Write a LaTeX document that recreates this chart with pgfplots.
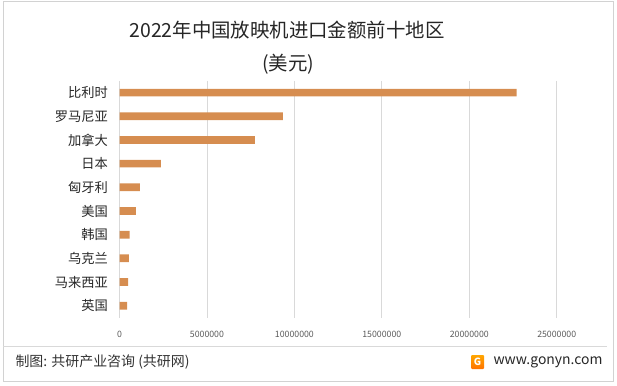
\documentclass[border=0pt]{standalone}
\usepackage{pgfplots}
\pgfplotsset{compat=1.18}
\usepackage{fontspec}
\setmainfont{Noto Sans CJK SC}
\definecolor{barc}{RGB}{214,141,80}
\definecolor{gridc}{RGB}{217,217,217}
\definecolor{tickc}{RGB}{89,89,89}
\begin{document}
\begin{tikzpicture}[x=1bp,y=1bp]
\path[use as bounding box] (0,0) rectangle (617,385);
\draw[gray!35,line width=0.8bp] (3,4) rectangle (613,384);
\node[text=black!85] at (287,355) {\fontsize{19.5}{22}\selectfont 2022年中国放映机进口金额前十地区};
\node[text=black!85] at (288,321) {\fontsize{19.5}{22}\selectfont (美元)};
\begin{axis}[
  at={(119.5bp,67.5bp)}, anchor=south west,
  scale only axis, width=437.2bp, height=236.7bp,
  xbar, bar width=7.7bp,
  xmin=0, xmax=25000000,
  ymin=-0.5, ymax=9.5, y dir=reverse,
  ytick={0,...,9},
  yticklabels={比利时,罗马尼亚,加拿大,日本,匈牙利,美国,韩国,乌克兰,马来西亚,英国},
  xtick={0,5000000,10000000,15000000,20000000,25000000},
  scaled x ticks=false,
  /pgf/number format/fixed,
  /pgf/number format/1000 sep={},
  /pgf/number format/assume math mode=true,
  x tick label style={text=tickc, font=\fontsize{8.8}{10}\selectfont, yshift=-10bp},
  y tick label style={text=black!85, font=\fontsize{13.3}{15}\selectfont, xshift=-8bp},
  major tick length=0,
  xmajorgrids, grid style={gridc, line width=0.8bp},
  axis x line*=bottom, x axis line style={draw=none},
  axis y line*=left, y axis line style={draw=gridc, line width=0.8bp, -},
  clip=false,
]
\addplot[fill=barc, draw=none] coordinates {
(22710000,0) (9340000,1) (7740000,2) (2370000,3) (1170000,4)
(940000,5) (580000,6) (530000,7) (490000,8) (430000,9)
};
\end{axis}
\draw[gray!30,line width=0.8bp] (3,39) -- (607,39);
\node[anchor=west,text=black!80] at (12,23) {\fontsize{14}{16}\selectfont 制图: 共研产业咨询 (共研网)};
\shade[top color=orange!70!yellow, bottom color=orange!90!red, rounded corners=1bp] (471,16) rectangle (484,30);
\node[text=white, font=\bfseries\fontsize{10}{10}\selectfont] at (477.5,23) {G};
\node[anchor=west,text=black!85] at (490,23) {\fontsize{14}{16}\selectfont www.gonyn.com};
\end{tikzpicture}
\end{document}
